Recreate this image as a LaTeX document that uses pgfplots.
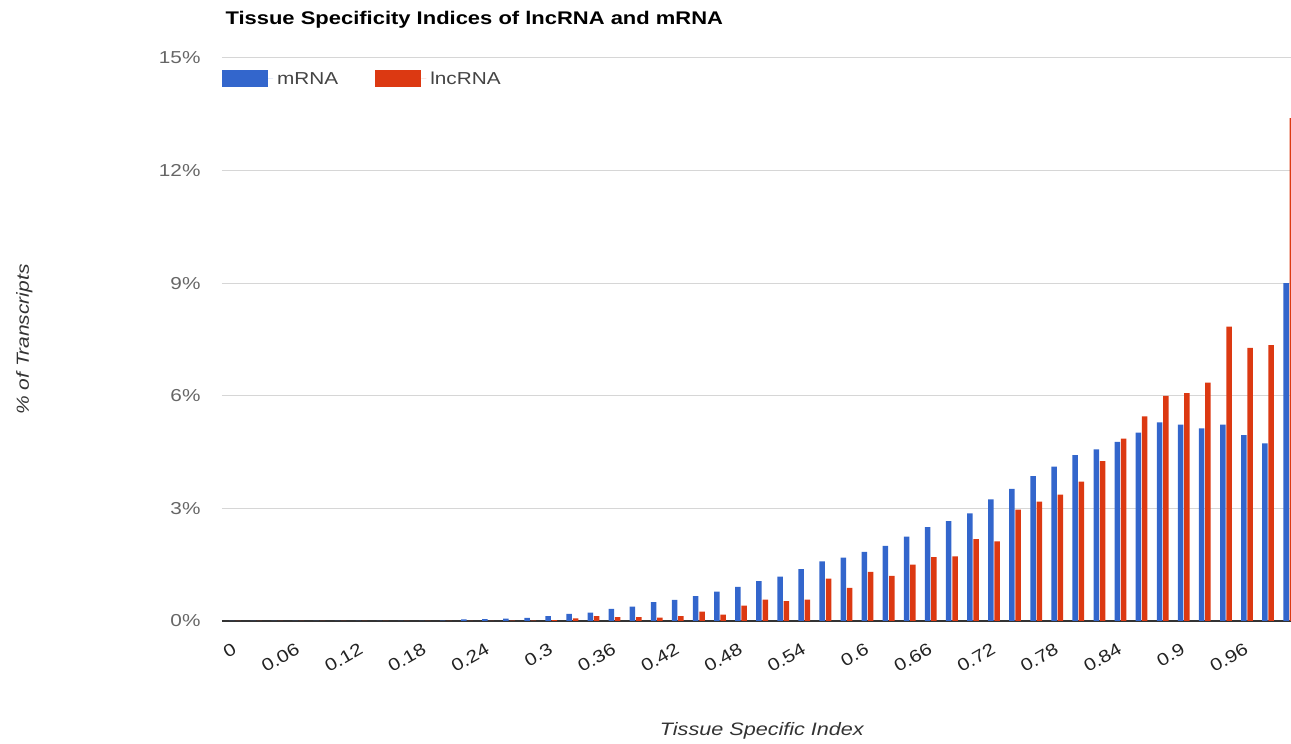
\documentclass[border=0pt]{standalone}
\usepackage{pgfplots}
\pgfplotsset{compat=1.18}
\usepackage{fontspec}
\setmainfont{Liberation Sans}[FakeStretch=1.2]
\definecolor{gblue}{HTML}{3366CC}
\definecolor{gred}{HTML}{DC3912}
\definecolor{gridc}{HTML}{D6D6D6}
\definecolor{basec}{HTML}{333333}
\definecolor{ticktxt}{HTML}{666666}
\definecolor{xtxt}{HTML}{222222}
\definecolor{legtxt}{HTML}{444444}

% category index, % of transcripts (index i = TSI value i*0.02)
\pgfplotstableread{
i mrna lnc
0 0 0
1 0 0
2 0 0
3 0 0
4 0 0
5 0 0
6 0 0
7 0 0
8 0 0
9 0 0
10 0.01 0
11 0.04 0
12 0.05 0
13 0.06 0.01
14 0.08 0.01
15 0.13 0.02
16 0.19 0.07
17 0.22 0.13
18 0.32 0.10
19 0.38 0.10
20 0.50 0.09
21 0.56 0.13
22 0.66 0.25
23 0.78 0.17
24 0.91 0.41
25 1.06 0.57
26 1.18 0.53
27 1.38 0.57
28 1.59 1.13
29 1.69 0.88
30 1.84 1.31
31 2.00 1.20
32 2.25 1.50
33 2.50 1.70
34 2.66 1.72
35 2.87 2.18
36 3.24 2.12
37 3.52 2.97
38 3.86 3.18
39 4.11 3.37
40 4.42 3.71
41 4.57 4.26
42 4.77 4.86
43 5.02 5.45
44 5.29 6.00
45 5.23 6.07
46 5.13 6.35
47 5.23 7.84
48 4.95 7.28
49 4.73 7.35
50 9.00 13.40
}\tsidata

\begin{document}
\begin{tikzpicture}
\path[use as bounding box] (0,0) rectangle (1291pt,744pt);
\begin{axis}[
    at={(222pt,123pt)}, anchor=south west,
    scale only axis,
    width=1069pt, height=563pt,
    ybar=0.8pt, bar width=5.5pt,
    xmin=-0.62, xmax=50.09,
    ymin=0, ymax=15,
    enlargelimits=false,
    axis line style={draw=none},
    tick style={draw=none},
    ytick={3,6,9,12,15},
    yticklabel={\pgfmathprintnumber{\tick}\%},
    extra y ticks={0},
    extra y tick labels={0\%},
    extra y tick style={grid style={basec, line width=1.6pt}},
    ymajorgrids,
    grid style={gridc, line width=1pt},
    /pgf/number format/assume math mode=true,
    yticklabel style={font=\fontsize{17.3}{20}\selectfont, text=ticktxt, xshift=-18pt},
    xtick={0,3,...,48},
    xticklabels={0,0.06,0.12,0.18,0.24,0.3,0.36,0.42,0.48,0.54,0.6,0.66,0.72,0.78,0.84,0.9,0.96},
    xticklabel style={font=\fontsize{17.3}{20}\selectfont, text=xtxt, rotate=30, anchor=east, yshift=-19pt, xshift=-8pt},
    xlabel={\itshape Tissue Specific Index},
    xlabel style={at={(axis description cs:0.505,-0.195)}, anchor=center, font=\fontsize{18}{21}\selectfont, text=basec},
    ylabel={\itshape \% of Transcripts},
    ylabel style={at={(axis description cs:-0.185,0.5)}, anchor=center, rotate=0, font=\fontsize{17.5}{21}\selectfont, text=basec},
    title={\bfseries Tissue Specificity Indices of lncRNA and mRNA},
    title style={at={(axis description cs:0,1.048)}, anchor=base west, font=\fontsize{18.3}{21}\selectfont, text=black},
    legend columns=2,
    legend style={at={(axis description cs:0,0.963)}, anchor=west, draw=none, fill=none,
        inner sep=0pt, font=\fontsize{17.3}{20}\selectfont, text=legtxt,
        /tikz/every even column/.append style={column sep=33pt},
        nodes={inner xsep=4pt, inner ysep=2pt}},
    legend image code/.code={\fill[#1] (0pt,-8.5pt) rectangle (46pt,8.5pt);\path (46pt,0) -- (51pt,0);},
]
\addplot[fill=gblue, draw=none] table[x=i, y=mrna] {\tsidata};
\addlegendentry{mRNA}
\addplot[fill=gred, draw=none] table[x=i, y=lnc] {\tsidata};
\addlegendentry{lncRNA}
\end{axis}
\end{tikzpicture}
\end{document}
